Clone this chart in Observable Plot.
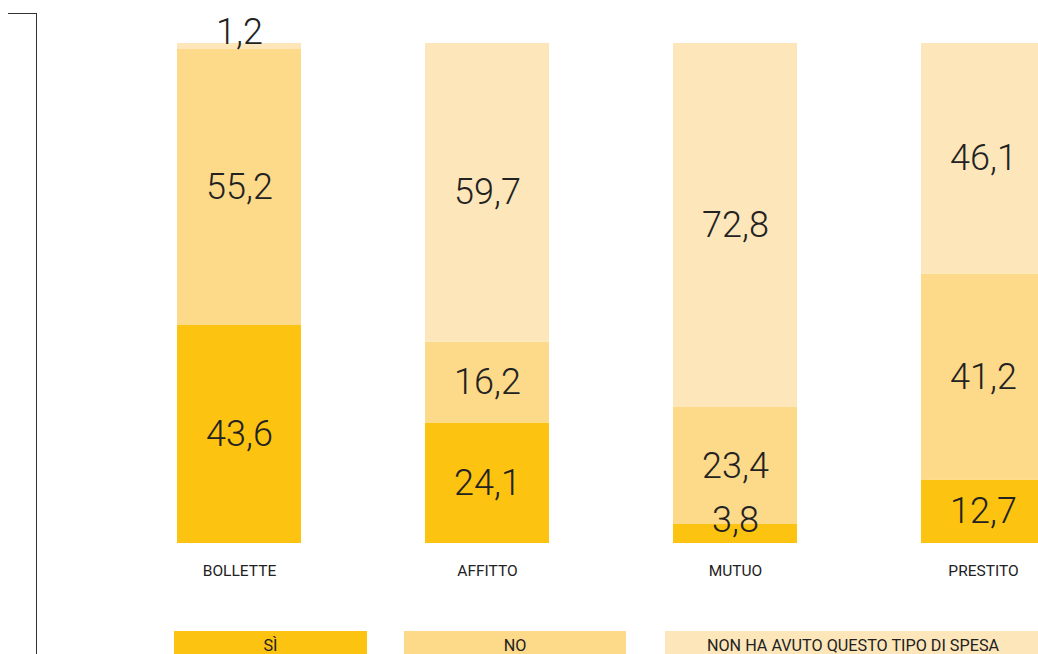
<!DOCTYPE html>
<html>
<head>
<meta charset="utf-8">
<script src="https://cdn.jsdelivr.net/npm/d3@7"></script>
<script src="https://cdn.jsdelivr.net/npm/@observablehq/plot@0.6"></script>
<style>
  html, body { margin: 0; padding: 0; background: #fff; }
  body { width: 1038px; height: 654px; overflow: hidden; position: relative; font-family: Roboto, "Noto Sans", sans-serif; }
  #chart { position: absolute; left: 0; top: 0; width: 1038px; height: 600px; overflow: hidden; }
  #bracket { position: absolute; left: 8px; top: 13px; width: 28px; height: 660px; border-top: 1.5px solid #333; border-right: 1.5px solid #333; }
  .leg { position: absolute; top: 631px; height: 26px; font-size: 16.2px; color: #222; text-align: center; line-height: 30px; white-space: nowrap; }
</style>
</head>
<body>
<div id="chart"></div>
<div id="bracket"></div>
<div id="legend"></div>
<script>
const categories = ["BOLLETTE", "AFFITTO", "MUTUO", "PRESTITO"];
const seriesNames = ["SÌ", "NO", "NON HA AVUTO QUESTO TIPO DI SPESA"];
const si    = [43.6, 24.1, 3.8, 12.7];
const no    = [55.2, 16.2, 23.4, 41.2];
const nonHa = [1.2, 59.7, 72.8, 46.1];
const colors = ["#FDC311", "#FDD98A", "#FDE7BA"];

const seriesValues = [si, no, nonHa];
const data = [];
seriesValues.forEach((vals, s) => {
  categories.forEach((c, i) => data.push({category: c, series: seriesNames[s], value: vals[i]}));
});
const fmt = v => d3.format(".1f")(v).replace(".", ",");

const chart = Plot.plot({
  width: 1038,
  height: 600,
  marginTop: 43,
  marginBottom: 57,
  marginLeft: 0,
  marginRight: 0,
  style: {fontFamily: "Roboto, 'Noto Sans', sans-serif", background: "transparent", overflow: "hidden"},
  x: {domain: categories, range: [51.75, 1169.75], padding: 0.5, label: null},
  y: {domain: [0, 100], axis: null},
  color: {domain: seriesNames, range: colors},
  marks: [
    Plot.barY(data, Plot.stackY({x: "category", y: "value", fill: "series", z: "series"})),
    Plot.text(data, Plot.stackY({x: "category", y: "value", z: "series",
      text: d => d.value >= 5 ? fmt(d.value) : "", fontSize: 36, fontWeight: 300, fill: "#222"})),
    Plot.text(data, Plot.stackY({x: "category", y: "value", z: "series",
      text: d => d.value < 5 ? fmt(d.value) : "", fontSize: 36, fontWeight: 300, fill: "#222", dy: -14})),
    Plot.axisX({tickSize: 0, tickPadding: 21, fontSize: 15.5, fill: "#222", label: null})
  ]
});
document.getElementById("chart").appendChild(chart);

const legendPos = [[174, 193], [404, 222], [665, 376]];
const legend = document.getElementById("legend");
seriesNames.forEach((name, i) => {
  const d = document.createElement("div");
  d.className = "leg";
  d.style.left = legendPos[i][0] + "px";
  d.style.width = legendPos[i][1] + "px";
  d.style.background = colors[i];
  d.textContent = name;
  legend.appendChild(d);
});
</script>
</body>
</html>
